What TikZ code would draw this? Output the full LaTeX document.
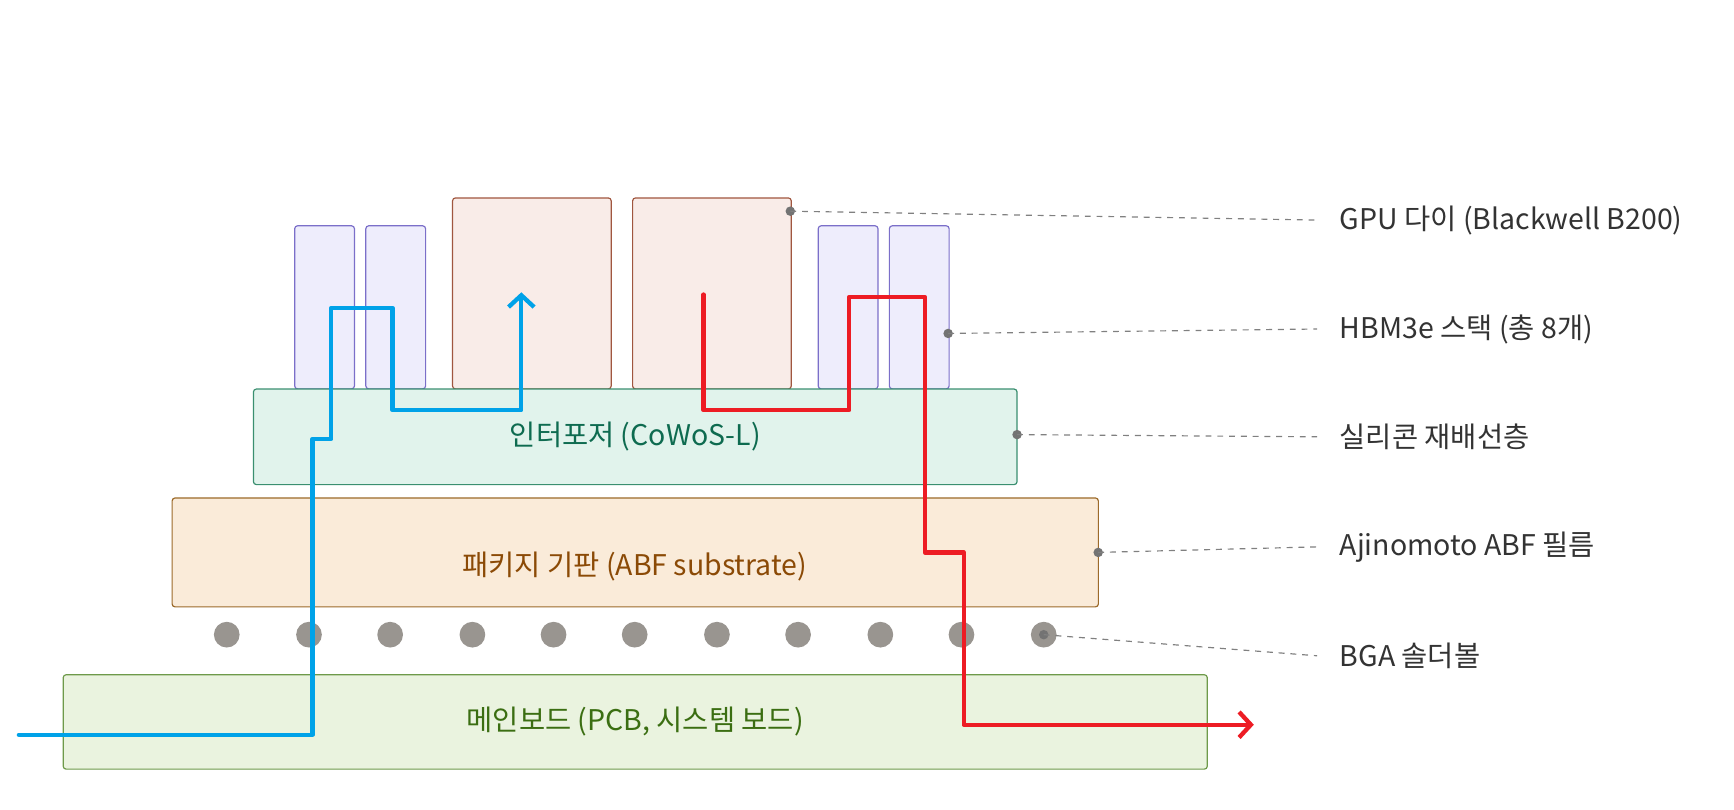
\documentclass[tikz,border=0pt]{standalone}
\usepackage{fontspec}
\setmainfont{Noto Sans CJK KR}
\usetikzlibrary{arrows.meta}
\definecolor{hbmf}{HTML}{EEEDFC}\definecolor{hbmd}{HTML}{7B6FC9}
\definecolor{gpuf}{HTML}{F9ECE8}\definecolor{gpud}{HTML}{A0563F}
\definecolor{intf}{HTML}{E1F3EC}\definecolor{intd}{HTML}{3A8F70}\definecolor{intt}{HTML}{0E6B50}
\definecolor{subf}{HTML}{FAEBD9}\definecolor{subd}{HTML}{9C6A2A}\definecolor{subt}{HTML}{8B4A06}
\definecolor{pcbf}{HTML}{EAF3DF}\definecolor{pcbd}{HTML}{6E9A4A}\definecolor{pcbt}{HTML}{3B6E12}
\definecolor{ball}{HTML}{999590}\definecolor{lbl}{HTML}{333333}
\definecolor{bl}{HTML}{00A2E8}\definecolor{rd}{HTML}{ED1C24}
\begin{document}
\begin{tikzpicture}[x=0.0199cm,y=-0.0199cm,
 blk/.style={draw,rounded corners=1.5pt,line width=0.6pt,inner sep=0pt,font=\fontsize{14.5}{16}\selectfont},
 hbm/.style={blk,fill=hbmf,draw=hbmd,minimum width=1.07cm,minimum height=2.92cm},
 gpu/.style={blk,fill=gpuf,draw=gpud,minimum width=2.84cm,minimum height=3.42cm},
 bga/.style={circle,fill=ball,inner sep=0pt,minimum size=0.46cm},
 lab/.style={anchor=west,text=lbl,font=\fontsize{14.5}{16}\selectfont,inner sep=0pt},
 lead/.style={draw=gray,dashed,line width=0.6pt},
 dot/.style={circle,fill=gray!90!black,inner sep=0pt,minimum size=0.17cm},
 path/.style={line width=2.2pt,line join=round,line cap=round}]
\useasboundingbox (0,0) rectangle (1560,728);
\node[hbm] (h1) at (292,276.5) {};
\node[hbm] (h2) at (356,276.5) {};
\node[hbm] (h3) at (763,276.5) {};
\node[hbm] (h4) at (827,276.5) {};
\node[gpu] (g1) at (478.5,264) {};
\node[gpu] (g2) at (640.5,264) {};
\node[blk,fill=intf,draw=intd,text=intt,minimum width=13.67cm,minimum height=1.71cm] (int) at (571.5,393) {인터포저 (CoWoS-L)};
\node[blk,fill=subf,draw=subd,minimum width=16.58cm,minimum height=1.95cm] (sub) at (571.5,497) {};
\node[text=subt,font=\fontsize{14.5}{16}\selectfont] (subl) at (571,510) {패키지 기판 (ABF substrate)};
\node[blk,fill=pcbf,draw=pcbd,text=pcbt,minimum width=20.48cm,minimum height=1.69cm] (pcb) at (571.5,649.5) {메인보드 (PCB, 시스템 보드)};
\foreach \i/\x in {1/204,2/278,3/351,4/425,5/498,6/571,7/645,8/718,9/792,10/865,11/939}
  \node[bga] (b\i) at (\x,571) {};
\node[lab] (l1) at (1205,198) {GPU 다이 (Blackwell B200)};
\node[lab] (l2) at (1205,296) {HBM3e 스택 (총 8개)};
\node[lab] (l3) at (1205,393) {실리콘 재배선층};
\node[lab] (l4) at (1205,492) {Ajinomoto ABF 필름};
\node[lab] (l5) at (1205,590) {BGA 솔더볼};
\coordinate (e1) at (1185,198);\coordinate (e2) at (1185,296);\coordinate (e3) at (1185,393);
\coordinate (e4) at (1185,492);\coordinate (e5) at (1185,590);
\node[dot] (d1) at (711,190) {};\node[dot] (d2) at (853,300) {};\node[dot] (d3) at (915,391) {};
\node[dot] (d4) at (988,497) {};\node[dot] (d5) at (939,571) {};
\foreach \i in {1,...,5} \draw[lead] (d\i.center) -- (e\i);
\coordinate (bs) at (17,661);\coordinate (be) at (469,263);
\draw[path,bl,-{Straight Barb[length=6pt,width=13pt,line width=2.2pt]}] (bs) -- (281,661) -- (281,395) -- (298,395) -- (298,277) -- (353,277) -- (353,369) -- (469,369) -- (be);
\coordinate (rs) at (633,265);\coordinate (re) at (1128,652);
\draw[path,rd,-{Straight Barb[length=6pt,width=13pt,line width=2.2pt]}] (rs) -- (633,369) -- (764,369) -- (764,267) -- (832,267) -- (832,497) -- (867,497) -- (867,652) -- (re);
\end{tikzpicture}
\end{document}
